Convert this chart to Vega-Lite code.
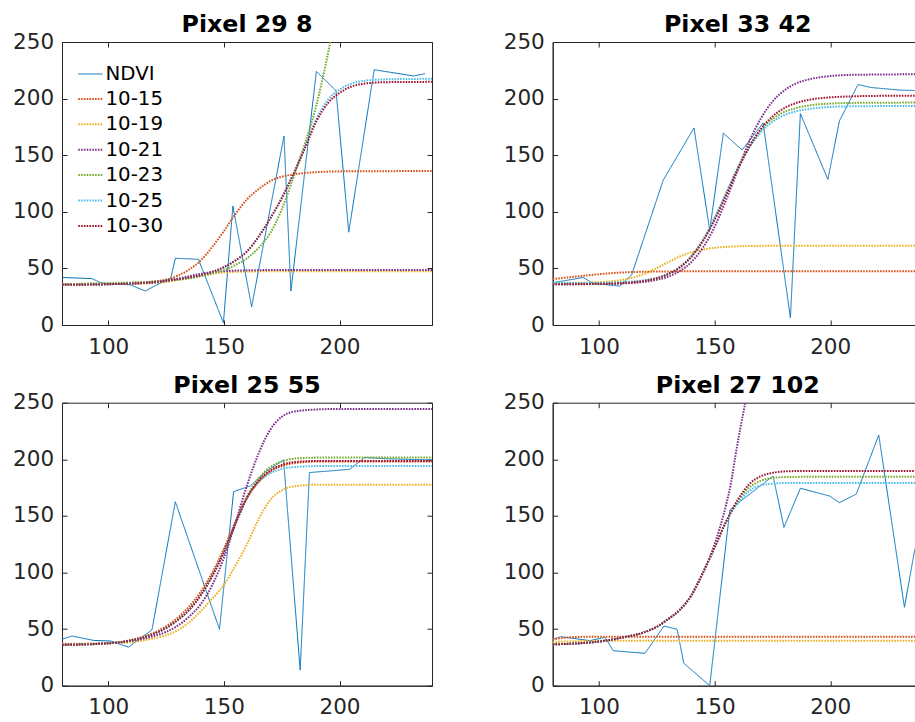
{
"$schema": "https://vega.github.io/schema/vega-lite/v6.json",
"padding": {"left": 12, "top": 12, "right": 0, "bottom": 0},
"background": "white",
"config": {
  "font": "DejaVu Sans",
  "view": {"stroke": "#262626", "strokeWidth": 1},
  "axis": {"grid": false, "title": null, "domainColor": "#262626", "tickColor": "#262626", "labelColor": "#262626", "labelFont": "DejaVu Sans", "labelFontSize": 21.5, "tickSize": -5, "domainWidth": 1, "tickWidth": 1},
  "axisX": {"labelPadding": 16},
  "axisY": {"labelPadding": 13.4},
  "title": {"font": "DejaVu Sans", "fontSize": 23.7, "fontWeight": "bold", "color": "#000000", "baseline": "alphabetic", "offset": -6, "anchor": "middle", "frame": "group"},
  "legend": {"title": null, "labelFont": "DejaVu Sans", "labelFontSize": 19.8, "labelColor": "#000000", "symbolType": "stroke", "symbolSize": 600, "labelOffset": 1.5, "rowPadding": 1.4, "padding": 0}
},
"data": {"values": [
{"p":1,"s":"NDVI","x":80,"y":42},{"p":1,"s":"NDVI","x":93,"y":41},{"p":1,"s":"NDVI","x":97,"y":37},{"p":1,"s":"NDVI","x":109.5,"y":35.5},{"p":1,"s":"NDVI","x":116,"y":30},{"p":1,"s":"NDVI","x":122.5,"y":37},{"p":1,"s":"NDVI","x":127,"y":41},{"p":1,"s":"NDVI","x":129,"y":59},{"p":1,"s":"NDVI","x":139,"y":58},{"p":1,"s":"NDVI","x":149.8,"y":2},{"p":1,"s":"NDVI","x":153.9,"y":105},{"p":1,"s":"NDVI","x":162,"y":16},{"p":1,"s":"NDVI","x":176,"y":167},{"p":1,"s":"NDVI","x":179,"y":30},{"p":1,"s":"NDVI","x":190,"y":224},{"p":1,"s":"NDVI","x":198.5,"y":207},{"p":1,"s":"NDVI","x":204,"y":82},{"p":1,"s":"NDVI","x":215,"y":225.5},{"p":1,"s":"NDVI","x":232,"y":220},{"p":1,"s":"NDVI","x":237,"y":222},
{"p":1,"s":"10-15","x":80,"y":36},{"p":1,"s":"10-15","x":100,"y":36.2},{"p":1,"s":"10-15","x":110,"y":37},{"p":1,"s":"10-15","x":120,"y":38.4},{"p":1,"s":"10-15","x":130,"y":43.5},{"p":1,"s":"10-15","x":135,"y":49},{"p":1,"s":"10-15","x":140,"y":57},{"p":1,"s":"10-15","x":145,"y":69},{"p":1,"s":"10-15","x":150,"y":83},{"p":1,"s":"10-15","x":155,"y":98},{"p":1,"s":"10-15","x":160,"y":111},{"p":1,"s":"10-15","x":165,"y":120},{"p":1,"s":"10-15","x":170,"y":127},{"p":1,"s":"10-15","x":175,"y":131},{"p":1,"s":"10-15","x":180,"y":133},{"p":1,"s":"10-15","x":185,"y":134.3},{"p":1,"s":"10-15","x":190,"y":135},{"p":1,"s":"10-15","x":200,"y":135.7},{"p":1,"s":"10-15","x":240,"y":136},
{"p":1,"s":"10-19","x":80,"y":36},{"p":1,"s":"10-19","x":100,"y":36.1},{"p":1,"s":"10-19","x":115,"y":36.6},{"p":1,"s":"10-19","x":120,"y":37.1},{"p":1,"s":"10-19","x":125,"y":38},{"p":1,"s":"10-19","x":130,"y":39.7},{"p":1,"s":"10-19","x":135,"y":41.7},{"p":1,"s":"10-19","x":140,"y":43.8},{"p":1,"s":"10-19","x":145,"y":45.4},{"p":1,"s":"10-19","x":150,"y":46.4},{"p":1,"s":"10-19","x":155,"y":47},{"p":1,"s":"10-19","x":160,"y":47.2},{"p":1,"s":"10-19","x":170,"y":47.45},{"p":1,"s":"10-19","x":240,"y":47.5},
{"p":1,"s":"10-21","x":80,"y":36},{"p":1,"s":"10-21","x":100,"y":36.1},{"p":1,"s":"10-21","x":115,"y":37},{"p":1,"s":"10-21","x":120,"y":37.6},{"p":1,"s":"10-21","x":125,"y":39},{"p":1,"s":"10-21","x":130,"y":40.9},{"p":1,"s":"10-21","x":135,"y":43.2},{"p":1,"s":"10-21","x":140,"y":45.3},{"p":1,"s":"10-21","x":145,"y":46.7},{"p":1,"s":"10-21","x":150,"y":47.6},{"p":1,"s":"10-21","x":155,"y":48.05},{"p":1,"s":"10-21","x":160,"y":48.3},{"p":1,"s":"10-21","x":170,"y":48.5},{"p":1,"s":"10-21","x":240,"y":48.5},
{"p":1,"s":"10-23","x":80,"y":36},{"p":1,"s":"10-23","x":100,"y":37},{"p":1,"s":"10-23","x":120,"y":38.5},{"p":1,"s":"10-23","x":130,"y":40},{"p":1,"s":"10-23","x":140,"y":43},{"p":1,"s":"10-23","x":145,"y":45.5},{"p":1,"s":"10-23","x":150,"y":48.5},{"p":1,"s":"10-23","x":155,"y":53},{"p":1,"s":"10-23","x":160,"y":59},{"p":1,"s":"10-23","x":165,"y":68},{"p":1,"s":"10-23","x":170,"y":81},{"p":1,"s":"10-23","x":175,"y":102},{"p":1,"s":"10-23","x":180,"y":130},{"p":1,"s":"10-23","x":185,"y":160},{"p":1,"s":"10-23","x":190,"y":194},{"p":1,"s":"10-23","x":194,"y":230},{"p":1,"s":"10-23","x":196,"y":250},
{"p":1,"s":"10-25","x":80,"y":35.5},{"p":1,"s":"10-25","x":100,"y":36},{"p":1,"s":"10-25","x":120,"y":38},{"p":1,"s":"10-25","x":130,"y":40.5},{"p":1,"s":"10-25","x":140,"y":44},{"p":1,"s":"10-25","x":145,"y":47},{"p":1,"s":"10-25","x":150,"y":51},{"p":1,"s":"10-25","x":155,"y":57},{"p":1,"s":"10-25","x":160,"y":65},{"p":1,"s":"10-25","x":165,"y":78},{"p":1,"s":"10-25","x":170,"y":94},{"p":1,"s":"10-25","x":175,"y":112},{"p":1,"s":"10-25","x":180,"y":133},{"p":1,"s":"10-25","x":185,"y":157},{"p":1,"s":"10-25","x":190,"y":182},{"p":1,"s":"10-25","x":195,"y":199},{"p":1,"s":"10-25","x":200,"y":208},{"p":1,"s":"10-25","x":205,"y":213},{"p":1,"s":"10-25","x":210,"y":215.5},{"p":1,"s":"10-25","x":220,"y":217},{"p":1,"s":"10-25","x":240,"y":217.5},
{"p":1,"s":"10-30","x":80,"y":35.5},{"p":1,"s":"10-30","x":100,"y":36},{"p":1,"s":"10-30","x":120,"y":38},{"p":1,"s":"10-30","x":130,"y":40.5},{"p":1,"s":"10-30","x":140,"y":44},{"p":1,"s":"10-30","x":145,"y":47},{"p":1,"s":"10-30","x":150,"y":51},{"p":1,"s":"10-30","x":155,"y":57},{"p":1,"s":"10-30","x":160,"y":65},{"p":1,"s":"10-30","x":165,"y":78},{"p":1,"s":"10-30","x":170,"y":94},{"p":1,"s":"10-30","x":175,"y":112},{"p":1,"s":"10-30","x":180,"y":133},{"p":1,"s":"10-30","x":185,"y":156},{"p":1,"s":"10-30","x":190,"y":180},{"p":1,"s":"10-30","x":195,"y":196},{"p":1,"s":"10-30","x":200,"y":205},{"p":1,"s":"10-30","x":205,"y":210.5},{"p":1,"s":"10-30","x":210,"y":213},{"p":1,"s":"10-30","x":220,"y":214.5},{"p":1,"s":"10-30","x":240,"y":214.8},

{"p":2,"s":"NDVI","x":80,"y":37.3},{"p":2,"s":"NDVI","x":93.2,"y":42},{"p":2,"s":"NDVI","x":97.5,"y":36.8},{"p":2,"s":"NDVI","x":109,"y":34.4},{"p":2,"s":"NDVI","x":114.1,"y":44.1},{"p":2,"s":"NDVI","x":127.8,"y":128},{"p":2,"s":"NDVI","x":141.1,"y":174.1},{"p":2,"s":"NDVI","x":147.9,"y":83.8},{"p":2,"s":"NDVI","x":153.8,"y":169.5},{"p":2,"s":"NDVI","x":161.9,"y":154.6},{"p":2,"s":"NDVI","x":171,"y":178.5},{"p":2,"s":"NDVI","x":182.8,"y":6.3},{"p":2,"s":"NDVI","x":187.1,"y":186.8},{"p":2,"s":"NDVI","x":199,"y":128.6},{"p":2,"s":"NDVI","x":204,"y":180.3},{"p":2,"s":"NDVI","x":212,"y":212.4},{"p":2,"s":"NDVI","x":217.7,"y":209.8},{"p":2,"s":"NDVI","x":230,"y":207.5},{"p":2,"s":"NDVI","x":240,"y":207},
{"p":2,"s":"10-15","x":80,"y":40.6},{"p":2,"s":"10-15","x":90,"y":42.75},{"p":2,"s":"10-15","x":100,"y":44.9},{"p":2,"s":"10-15","x":110,"y":46.4},{"p":2,"s":"10-15","x":120,"y":47.05},{"p":2,"s":"10-15","x":130,"y":47.3},{"p":2,"s":"10-15","x":150,"y":47.5},{"p":2,"s":"10-15","x":240,"y":47.5},
{"p":2,"s":"10-19","x":80,"y":37.1},{"p":2,"s":"10-19","x":100,"y":37.9},{"p":2,"s":"10-19","x":110,"y":39.9},{"p":2,"s":"10-19","x":115,"y":42.1},{"p":2,"s":"10-19","x":120,"y":45.6},{"p":2,"s":"10-19","x":125,"y":50.3},{"p":2,"s":"10-19","x":130,"y":55.6},{"p":2,"s":"10-19","x":135,"y":60.5},{"p":2,"s":"10-19","x":140,"y":64.3},{"p":2,"s":"10-19","x":145,"y":66.7},{"p":2,"s":"10-19","x":150,"y":68.2},{"p":2,"s":"10-19","x":155,"y":69},{"p":2,"s":"10-19","x":160,"y":69.5},{"p":2,"s":"10-19","x":170,"y":69.9},{"p":2,"s":"10-19","x":240,"y":70},
{"p":2,"s":"10-21","x":80,"y":36},{"p":2,"s":"10-21","x":100,"y":36.2},{"p":2,"s":"10-21","x":110,"y":36.7},{"p":2,"s":"10-21","x":120,"y":38.2},{"p":2,"s":"10-21","x":125,"y":39.9},{"p":2,"s":"10-21","x":130,"y":42.7},{"p":2,"s":"10-21","x":135,"y":47.7},{"p":2,"s":"10-21","x":140,"y":55.7},{"p":2,"s":"10-21","x":145,"y":68.4},{"p":2,"s":"10-21","x":150,"y":86.7},{"p":2,"s":"10-21","x":155,"y":110.5},{"p":2,"s":"10-21","x":160,"y":136.8},{"p":2,"s":"10-21","x":165,"y":162.2},{"p":2,"s":"10-21","x":170,"y":182.4},{"p":2,"s":"10-21","x":175,"y":197.3},{"p":2,"s":"10-21","x":180,"y":207},{"p":2,"s":"10-21","x":185,"y":213.2},{"p":2,"s":"10-21","x":190,"y":216.6},{"p":2,"s":"10-21","x":200,"y":219.9},{"p":2,"s":"10-21","x":210,"y":221},{"p":2,"s":"10-21","x":240,"y":221.5},
{"p":2,"s":"10-23","x":80,"y":36.5},{"p":2,"s":"10-23","x":100,"y":36.8},{"p":2,"s":"10-23","x":110,"y":37.4},{"p":2,"s":"10-23","x":120,"y":39.2},{"p":2,"s":"10-23","x":125,"y":41.2},{"p":2,"s":"10-23","x":130,"y":44.8},{"p":2,"s":"10-23","x":135,"y":50.8},{"p":2,"s":"10-23","x":140,"y":60.3},{"p":2,"s":"10-23","x":145,"y":74.6},{"p":2,"s":"10-23","x":150,"y":93.8},{"p":2,"s":"10-23","x":155,"y":116.3},{"p":2,"s":"10-23","x":160,"y":138.7},{"p":2,"s":"10-23","x":165,"y":157.9},{"p":2,"s":"10-23","x":170,"y":172.3},{"p":2,"s":"10-23","x":175,"y":181.9},{"p":2,"s":"10-23","x":180,"y":188},{"p":2,"s":"10-23","x":185,"y":191.5},{"p":2,"s":"10-23","x":190,"y":193.7},{"p":2,"s":"10-23","x":200,"y":195.6},{"p":2,"s":"10-23","x":210,"y":196.2},{"p":2,"s":"10-23","x":240,"y":196.5},
{"p":2,"s":"10-25","x":80,"y":37},{"p":2,"s":"10-25","x":100,"y":37.2},{"p":2,"s":"10-25","x":110,"y":37.8},{"p":2,"s":"10-25","x":120,"y":39.6},{"p":2,"s":"10-25","x":125,"y":41.6},{"p":2,"s":"10-25","x":130,"y":45.3},{"p":2,"s":"10-25","x":135,"y":51.5},{"p":2,"s":"10-25","x":140,"y":61},{"p":2,"s":"10-25","x":145,"y":75.5},{"p":2,"s":"10-25","x":150,"y":94.5},{"p":2,"s":"10-25","x":155,"y":116.5},{"p":2,"s":"10-25","x":160,"y":138.2},{"p":2,"s":"10-25","x":165,"y":156.6},{"p":2,"s":"10-25","x":170,"y":170.2},{"p":2,"s":"10-25","x":175,"y":179.5},{"p":2,"s":"10-25","x":180,"y":185.2},{"p":2,"s":"10-25","x":185,"y":188.6},{"p":2,"s":"10-25","x":190,"y":190.6},{"p":2,"s":"10-25","x":200,"y":192.6},{"p":2,"s":"10-25","x":210,"y":193.2},{"p":2,"s":"10-25","x":240,"y":193.5},
{"p":2,"s":"10-30","x":80,"y":36},{"p":2,"s":"10-30","x":100,"y":36.4},{"p":2,"s":"10-30","x":110,"y":37},{"p":2,"s":"10-30","x":120,"y":39.1},{"p":2,"s":"10-30","x":125,"y":41.3},{"p":2,"s":"10-30","x":130,"y":45},{"p":2,"s":"10-30","x":135,"y":51},{"p":2,"s":"10-30","x":140,"y":60.4},{"p":2,"s":"10-30","x":145,"y":74.3},{"p":2,"s":"10-30","x":150,"y":92.8},{"p":2,"s":"10-30","x":155,"y":114.7},{"p":2,"s":"10-30","x":160,"y":137.3},{"p":2,"s":"10-30","x":165,"y":157.4},{"p":2,"s":"10-30","x":170,"y":173.1},{"p":2,"s":"10-30","x":175,"y":184.1},{"p":2,"s":"10-30","x":180,"y":191.4},{"p":2,"s":"10-30","x":185,"y":195.9},{"p":2,"s":"10-30","x":190,"y":198.6},{"p":2,"s":"10-30","x":195,"y":200.2},{"p":2,"s":"10-30","x":200,"y":201.1},{"p":2,"s":"10-30","x":210,"y":202},{"p":2,"s":"10-30","x":220,"y":202.4},{"p":2,"s":"10-30","x":240,"y":202.5},

{"p":3,"s":"NDVI","x":80,"y":41},{"p":3,"s":"NDVI","x":84.3,"y":43.9},{"p":3,"s":"NDVI","x":93.7,"y":40},{"p":3,"s":"NDVI","x":101,"y":39.5},{"p":3,"s":"NDVI","x":108.8,"y":34},{"p":3,"s":"NDVI","x":112.4,"y":39.7},{"p":3,"s":"NDVI","x":118.9,"y":49.2},{"p":3,"s":"NDVI","x":129,"y":162.5},{"p":3,"s":"NDVI","x":148.1,"y":49.8},{"p":3,"s":"NDVI","x":154.2,"y":171.4},{"p":3,"s":"NDVI","x":161.4,"y":176.4},{"p":3,"s":"NDVI","x":168,"y":189},{"p":3,"s":"NDVI","x":175.8,"y":199.4},{"p":3,"s":"NDVI","x":183,"y":13.8},{"p":3,"s":"NDVI","x":187,"y":188.3},{"p":3,"s":"NDVI","x":204.3,"y":191.1},{"p":3,"s":"NDVI","x":211,"y":201.7},{"p":3,"s":"NDVI","x":220,"y":200.5},{"p":3,"s":"NDVI","x":240,"y":199.4},
{"p":3,"s":"10-15","x":80,"y":36},{"p":3,"s":"10-15","x":100,"y":37.5},{"p":3,"s":"10-15","x":110,"y":40.5},{"p":3,"s":"10-15","x":120,"y":47},{"p":3,"s":"10-15","x":125,"y":52.5},{"p":3,"s":"10-15","x":130,"y":60},{"p":3,"s":"10-15","x":135,"y":70},{"p":3,"s":"10-15","x":140,"y":83},{"p":3,"s":"10-15","x":145,"y":100},{"p":3,"s":"10-15","x":150,"y":121},{"p":3,"s":"10-15","x":155,"y":145},{"p":3,"s":"10-15","x":160,"y":166},{"p":3,"s":"10-15","x":165,"y":180},{"p":3,"s":"10-15","x":170,"y":189},{"p":3,"s":"10-15","x":175,"y":194},{"p":3,"s":"10-15","x":180,"y":196.5},{"p":3,"s":"10-15","x":190,"y":198},{"p":3,"s":"10-15","x":240,"y":198},
{"p":3,"s":"10-19","x":80,"y":37},{"p":3,"s":"10-19","x":100,"y":37.5},{"p":3,"s":"10-19","x":110,"y":38.5},{"p":3,"s":"10-19","x":120,"y":42},{"p":3,"s":"10-19","x":125,"y":44.5},{"p":3,"s":"10-19","x":130,"y":49},{"p":3,"s":"10-19","x":135,"y":56},{"p":3,"s":"10-19","x":140,"y":66},{"p":3,"s":"10-19","x":145,"y":77},{"p":3,"s":"10-19","x":150,"y":89},{"p":3,"s":"10-19","x":155,"y":106},{"p":3,"s":"10-19","x":160,"y":125},{"p":3,"s":"10-19","x":165,"y":147},{"p":3,"s":"10-19","x":170,"y":164},{"p":3,"s":"10-19","x":175,"y":172.5},{"p":3,"s":"10-19","x":180,"y":176},{"p":3,"s":"10-19","x":190,"y":177.5},{"p":3,"s":"10-19","x":240,"y":177.5},
{"p":3,"s":"10-21","x":80,"y":36.5},{"p":3,"s":"10-21","x":100,"y":37.5},{"p":3,"s":"10-21","x":110,"y":39.5},{"p":3,"s":"10-21","x":120,"y":44},{"p":3,"s":"10-21","x":125,"y":47.5},{"p":3,"s":"10-21","x":130,"y":53},{"p":3,"s":"10-21","x":135,"y":61},{"p":3,"s":"10-21","x":140,"y":72},{"p":3,"s":"10-21","x":145,"y":89},{"p":3,"s":"10-21","x":150,"y":113},{"p":3,"s":"10-21","x":155,"y":144},{"p":3,"s":"10-21","x":160,"y":177},{"p":3,"s":"10-21","x":165,"y":205},{"p":3,"s":"10-21","x":170,"y":226},{"p":3,"s":"10-21","x":175,"y":237.5},{"p":3,"s":"10-21","x":180,"y":242},{"p":3,"s":"10-21","x":190,"y":244},{"p":3,"s":"10-21","x":200,"y":244.5},{"p":3,"s":"10-21","x":240,"y":244.5},
{"p":3,"s":"10-23","x":80,"y":36},{"p":3,"s":"10-23","x":100,"y":37.5},{"p":3,"s":"10-23","x":110,"y":40},{"p":3,"s":"10-23","x":120,"y":46},{"p":3,"s":"10-23","x":125,"y":51},{"p":3,"s":"10-23","x":130,"y":58},{"p":3,"s":"10-23","x":135,"y":67},{"p":3,"s":"10-23","x":140,"y":80},{"p":3,"s":"10-23","x":145,"y":97},{"p":3,"s":"10-23","x":150,"y":118},{"p":3,"s":"10-23","x":155,"y":143},{"p":3,"s":"10-23","x":160,"y":167},{"p":3,"s":"10-23","x":165,"y":183},{"p":3,"s":"10-23","x":170,"y":193},{"p":3,"s":"10-23","x":175,"y":198},{"p":3,"s":"10-23","x":180,"y":200.5},{"p":3,"s":"10-23","x":190,"y":201.5},{"p":3,"s":"10-23","x":240,"y":201.5},
{"p":3,"s":"10-25","x":80,"y":36},{"p":3,"s":"10-25","x":100,"y":37.5},{"p":3,"s":"10-25","x":110,"y":40},{"p":3,"s":"10-25","x":120,"y":46},{"p":3,"s":"10-25","x":125,"y":51},{"p":3,"s":"10-25","x":130,"y":58},{"p":3,"s":"10-25","x":135,"y":67},{"p":3,"s":"10-25","x":140,"y":80},{"p":3,"s":"10-25","x":145,"y":97},{"p":3,"s":"10-25","x":150,"y":118},{"p":3,"s":"10-25","x":155,"y":143},{"p":3,"s":"10-25","x":160,"y":166},{"p":3,"s":"10-25","x":165,"y":180},{"p":3,"s":"10-25","x":170,"y":187.5},{"p":3,"s":"10-25","x":175,"y":191.5},{"p":3,"s":"10-25","x":180,"y":193},{"p":3,"s":"10-25","x":190,"y":194},{"p":3,"s":"10-25","x":240,"y":194},
{"p":3,"s":"10-30","x":80,"y":36},{"p":3,"s":"10-30","x":100,"y":37.5},{"p":3,"s":"10-30","x":110,"y":40},{"p":3,"s":"10-30","x":120,"y":46},{"p":3,"s":"10-30","x":125,"y":51},{"p":3,"s":"10-30","x":130,"y":58},{"p":3,"s":"10-30","x":135,"y":67},{"p":3,"s":"10-30","x":140,"y":80},{"p":3,"s":"10-30","x":145,"y":97},{"p":3,"s":"10-30","x":150,"y":118},{"p":3,"s":"10-30","x":155,"y":143},{"p":3,"s":"10-30","x":160,"y":166},{"p":3,"s":"10-30","x":165,"y":181},{"p":3,"s":"10-30","x":170,"y":190},{"p":3,"s":"10-30","x":175,"y":195},{"p":3,"s":"10-30","x":180,"y":197.5},{"p":3,"s":"10-30","x":190,"y":198.5},{"p":3,"s":"10-30","x":240,"y":198.5},

{"p":4,"s":"NDVI","x":80,"y":41},{"p":4,"s":"NDVI","x":83.5,"y":43.3},{"p":4,"s":"NDVI","x":96.1,"y":39.8},{"p":4,"s":"NDVI","x":102.6,"y":42.7},{"p":4,"s":"NDVI","x":106.2,"y":30.9},{"p":4,"s":"NDVI","x":119.9,"y":28.6},{"p":4,"s":"NDVI","x":128.1,"y":52.7},{"p":4,"s":"NDVI","x":133.8,"y":49.8},{"p":4,"s":"NDVI","x":136.7,"y":19.8},{"p":4,"s":"NDVI","x":147.9,"y":0},{"p":4,"s":"NDVI","x":156.6,"y":155.2},{"p":4,"s":"NDVI","x":160.9,"y":162.5},{"p":4,"s":"NDVI","x":175.3,"y":185.2},{"p":4,"s":"NDVI","x":180,"y":139.9},{"p":4,"s":"NDVI","x":187.1,"y":174.4},{"p":4,"s":"NDVI","x":199.7,"y":167.6},{"p":4,"s":"NDVI","x":204,"y":161.7},{"p":4,"s":"NDVI","x":211.3,"y":169.3},{"p":4,"s":"NDVI","x":221,"y":221.5},{"p":4,"s":"NDVI","x":232.1,"y":69.3},{"p":4,"s":"NDVI","x":236.4,"y":118.4},{"p":4,"s":"NDVI","x":240,"y":145},
{"p":4,"s":"10-15","x":80,"y":41},{"p":4,"s":"10-15","x":85,"y":42.3},{"p":4,"s":"10-15","x":90,"y":43},{"p":4,"s":"10-15","x":100,"y":43.3},{"p":4,"s":"10-15","x":240,"y":43.3},
{"p":4,"s":"10-19","x":80,"y":38.5},{"p":4,"s":"10-19","x":90,"y":39.3},{"p":4,"s":"10-19","x":100,"y":39.6},{"p":4,"s":"10-19","x":240,"y":39.8},
{"p":4,"s":"10-21","x":80,"y":36.5},{"p":4,"s":"10-21","x":100,"y":39},{"p":4,"s":"10-21","x":110,"y":42.5},{"p":4,"s":"10-21","x":120,"y":47.5},{"p":4,"s":"10-21","x":125,"y":52},{"p":4,"s":"10-21","x":130,"y":59},{"p":4,"s":"10-21","x":135,"y":67},{"p":4,"s":"10-21","x":140,"y":80},{"p":4,"s":"10-21","x":145,"y":100},{"p":4,"s":"10-21","x":150,"y":125},{"p":4,"s":"10-21","x":155,"y":160},{"p":4,"s":"10-21","x":157,"y":178},{"p":4,"s":"10-21","x":159,"y":203},{"p":4,"s":"10-21","x":161,"y":226},{"p":4,"s":"10-21","x":162.5,"y":242},{"p":4,"s":"10-21","x":163.3,"y":250},
{"p":4,"s":"10-23","x":80,"y":36.5},{"p":4,"s":"10-23","x":100,"y":39},{"p":4,"s":"10-23","x":110,"y":42.5},{"p":4,"s":"10-23","x":120,"y":47.5},{"p":4,"s":"10-23","x":125,"y":52},{"p":4,"s":"10-23","x":130,"y":59},{"p":4,"s":"10-23","x":135,"y":67},{"p":4,"s":"10-23","x":140,"y":80},{"p":4,"s":"10-23","x":145,"y":100},{"p":4,"s":"10-23","x":150,"y":122},{"p":4,"s":"10-23","x":155,"y":145},{"p":4,"s":"10-23","x":160,"y":163},{"p":4,"s":"10-23","x":165,"y":175},{"p":4,"s":"10-23","x":170,"y":181},{"p":4,"s":"10-23","x":175,"y":183.5},{"p":4,"s":"10-23","x":180,"y":184.3},{"p":4,"s":"10-23","x":190,"y":184.5},{"p":4,"s":"10-23","x":240,"y":184.5},
{"p":4,"s":"10-25","x":80,"y":36.5},{"p":4,"s":"10-25","x":100,"y":39},{"p":4,"s":"10-25","x":110,"y":42.5},{"p":4,"s":"10-25","x":120,"y":47.5},{"p":4,"s":"10-25","x":125,"y":52},{"p":4,"s":"10-25","x":130,"y":59},{"p":4,"s":"10-25","x":135,"y":67},{"p":4,"s":"10-25","x":140,"y":80},{"p":4,"s":"10-25","x":145,"y":100},{"p":4,"s":"10-25","x":150,"y":122},{"p":4,"s":"10-25","x":155,"y":145},{"p":4,"s":"10-25","x":160,"y":161},{"p":4,"s":"10-25","x":165,"y":172},{"p":4,"s":"10-25","x":170,"y":177},{"p":4,"s":"10-25","x":175,"y":178.5},{"p":4,"s":"10-25","x":180,"y":179},{"p":4,"s":"10-25","x":240,"y":179},
{"p":4,"s":"10-30","x":80,"y":36.5},{"p":4,"s":"10-30","x":100,"y":39},{"p":4,"s":"10-30","x":110,"y":42.5},{"p":4,"s":"10-30","x":120,"y":47.5},{"p":4,"s":"10-30","x":125,"y":52},{"p":4,"s":"10-30","x":130,"y":59},{"p":4,"s":"10-30","x":135,"y":67},{"p":4,"s":"10-30","x":140,"y":80},{"p":4,"s":"10-30","x":145,"y":100},{"p":4,"s":"10-30","x":150,"y":122},{"p":4,"s":"10-30","x":155,"y":145},{"p":4,"s":"10-30","x":160,"y":164},{"p":4,"s":"10-30","x":165,"y":178},{"p":4,"s":"10-30","x":170,"y":185},{"p":4,"s":"10-30","x":175,"y":188},{"p":4,"s":"10-30","x":180,"y":189.3},{"p":4,"s":"10-30","x":190,"y":189.7},{"p":4,"s":"10-30","x":240,"y":189.7}
]},
"columns": 2,
"spacing": {"row": 77.7, "column": 120.7},
"bounds": "flush",
"concat": [
{"title": "Pixel 29 8", "width": 370, "height": 283, "transform": [{"filter": "datum.p === 1"}],
 "resolve": {"axis": {"x": "independent", "y": "independent"}},
 "layer": [
  {"transform": [{"filter": "datum.s === 'NDVI'"}], "mark": {"type": "line", "clip": true},
   "encoding": {
    "x": {"field": "x", "type": "quantitative", "scale": {"domain": [80, 240], "nice": false, "zero": false}, "axis": {"values": [100, 150, 200]}},
    "y": {"field": "y", "type": "quantitative", "scale": {"domain": [0, 250], "nice": false}, "axis": {"values": [0, 50, 100, 150, 200, 250]}},
    "color": {"field": "s", "type": "nominal", "scale": {"domain": ["NDVI","10-15","10-19","10-21","10-23","10-25","10-30"], "range": ["#0072BD","#D95319","#EDB120","#7E2F8E","#77AC30","#4DBEEE","#A2142F"]}, "legend": {"orient": "none", "legendX": 15, "legendY": 19}},
    "strokeDash": {"field": "s", "type": "nominal", "scale": {"domain": ["NDVI","10-15","10-19","10-21","10-23","10-25","10-30"], "range": [[1,0],[1.6,1.2],[1.6,1.2],[1.6,1.2],[1.6,1.2],[1.6,1.2],[1.6,1.2]]}, "legend": {"orient": "none", "legendX": 15, "legendY": 19}},
    "strokeWidth": {"field": "s", "type": "nominal", "scale": {"type": "ordinal", "domain": ["NDVI","10-15","10-19","10-21","10-23","10-25","10-30"], "range": [1, 2, 2, 2, 2, 2, 2]}, "legend": {"orient": "none", "legendX": 15, "legendY": 19}}}},
  {"transform": [{"filter": "datum.s !== 'NDVI'"}], "mark": {"type": "line", "clip": true, "interpolate": "monotone"},
   "encoding": {
    "x": {"field": "x", "type": "quantitative", "scale": {"domain": [80, 240], "nice": false, "zero": false}, "axis": null},
    "y": {"field": "y", "type": "quantitative", "scale": {"domain": [0, 250], "nice": false}, "axis": null},
    "color": {"field": "s", "type": "nominal", "scale": {"domain": ["NDVI","10-15","10-19","10-21","10-23","10-25","10-30"], "range": ["#0072BD","#D95319","#EDB120","#7E2F8E","#77AC30","#4DBEEE","#A2142F"]}, "legend": {"orient": "none", "legendX": 15, "legendY": 19}},
    "strokeDash": {"field": "s", "type": "nominal", "scale": {"domain": ["NDVI","10-15","10-19","10-21","10-23","10-25","10-30"], "range": [[1,0],[1.6,1.2],[1.6,1.2],[1.6,1.2],[1.6,1.2],[1.6,1.2],[1.6,1.2]]}, "legend": {"orient": "none", "legendX": 15, "legendY": 19}},
    "strokeWidth": {"field": "s", "type": "nominal", "scale": {"type": "ordinal", "domain": ["NDVI","10-15","10-19","10-21","10-23","10-25","10-30"], "range": [1, 2, 2, 2, 2, 2, 2]}, "legend": {"orient": "none", "legendX": 15, "legendY": 19}}}},
  {"mark": {"type": "point", "opacity": 0},
   "encoding": {
    "x": {"field": "x", "type": "quantitative", "scale": {"domain": [80, 240], "nice": false, "zero": false}, "axis": {"orient": "top", "labels": false, "domain": false, "values": [100, 150, 200]}},
    "y": {"field": "y", "type": "quantitative", "scale": {"domain": [0, 250], "nice": false}, "axis": {"orient": "right", "labels": false, "domain": false, "values": [0, 50, 100, 150, 200, 250]}}}}
 ]},
{"title": "Pixel 33 42", "width": 370, "height": 283, "transform": [{"filter": "datum.p === 2"}],
 "resolve": {"axis": {"x": "independent", "y": "independent"}},
 "layer": [
  {"transform": [{"filter": "datum.s === 'NDVI'"}], "mark": {"type": "line", "clip": true},
   "encoding": {
    "x": {"field": "x", "type": "quantitative", "scale": {"domain": [80, 240], "nice": false, "zero": false}, "axis": {"values": [100, 150, 200]}},
    "y": {"field": "y", "type": "quantitative", "scale": {"domain": [0, 250], "nice": false}, "axis": {"values": [0, 50, 100, 150, 200, 250]}},
    "color": {"field": "s", "type": "nominal", "scale": {"domain": ["NDVI","10-15","10-19","10-21","10-23","10-25","10-30"], "range": ["#0072BD","#D95319","#EDB120","#7E2F8E","#77AC30","#4DBEEE","#A2142F"]}, "legend": {"orient": "none", "legendX": 15, "legendY": 19}},
    "strokeDash": {"field": "s", "type": "nominal", "scale": {"domain": ["NDVI","10-15","10-19","10-21","10-23","10-25","10-30"], "range": [[1,0],[1.6,1.2],[1.6,1.2],[1.6,1.2],[1.6,1.2],[1.6,1.2],[1.6,1.2]]}, "legend": {"orient": "none", "legendX": 15, "legendY": 19}},
    "strokeWidth": {"field": "s", "type": "nominal", "scale": {"type": "ordinal", "domain": ["NDVI","10-15","10-19","10-21","10-23","10-25","10-30"], "range": [1, 2, 2, 2, 2, 2, 2]}, "legend": {"orient": "none", "legendX": 15, "legendY": 19}}}},
  {"transform": [{"filter": "datum.s !== 'NDVI'"}], "mark": {"type": "line", "clip": true, "interpolate": "monotone"},
   "encoding": {
    "x": {"field": "x", "type": "quantitative", "scale": {"domain": [80, 240], "nice": false, "zero": false}, "axis": null},
    "y": {"field": "y", "type": "quantitative", "scale": {"domain": [0, 250], "nice": false}, "axis": null},
    "color": {"field": "s", "type": "nominal", "scale": {"domain": ["NDVI","10-15","10-19","10-21","10-23","10-25","10-30"], "range": ["#0072BD","#D95319","#EDB120","#7E2F8E","#77AC30","#4DBEEE","#A2142F"]}, "legend": {"orient": "none", "legendX": 15, "legendY": 19}},
    "strokeDash": {"field": "s", "type": "nominal", "scale": {"domain": ["NDVI","10-15","10-19","10-21","10-23","10-25","10-30"], "range": [[1,0],[1.6,1.2],[1.6,1.2],[1.6,1.2],[1.6,1.2],[1.6,1.2],[1.6,1.2]]}, "legend": {"orient": "none", "legendX": 15, "legendY": 19}},
    "strokeWidth": {"field": "s", "type": "nominal", "scale": {"type": "ordinal", "domain": ["NDVI","10-15","10-19","10-21","10-23","10-25","10-30"], "range": [1, 2, 2, 2, 2, 2, 2]}, "legend": {"orient": "none", "legendX": 15, "legendY": 19}}}},
  {"mark": {"type": "point", "opacity": 0},
   "encoding": {
    "x": {"field": "x", "type": "quantitative", "scale": {"domain": [80, 240], "nice": false, "zero": false}, "axis": {"orient": "top", "labels": false, "domain": false, "values": [100, 150, 200]}},
    "y": {"field": "y", "type": "quantitative", "scale": {"domain": [0, 250], "nice": false}, "axis": {"orient": "right", "labels": false, "domain": false, "values": [0, 50, 100, 150, 200, 250]}}}}
 ]},
{"title": "Pixel 25 55", "width": 370, "height": 283, "transform": [{"filter": "datum.p === 3"}],
 "resolve": {"axis": {"x": "independent", "y": "independent"}},
 "layer": [
  {"transform": [{"filter": "datum.s === 'NDVI'"}], "mark": {"type": "line", "clip": true},
   "encoding": {
    "x": {"field": "x", "type": "quantitative", "scale": {"domain": [80, 240], "nice": false, "zero": false}, "axis": {"values": [100, 150, 200]}},
    "y": {"field": "y", "type": "quantitative", "scale": {"domain": [0, 250], "nice": false}, "axis": {"values": [0, 50, 100, 150, 200, 250]}},
    "color": {"field": "s", "type": "nominal", "scale": {"domain": ["NDVI","10-15","10-19","10-21","10-23","10-25","10-30"], "range": ["#0072BD","#D95319","#EDB120","#7E2F8E","#77AC30","#4DBEEE","#A2142F"]}, "legend": {"orient": "none", "legendX": 15, "legendY": 19}},
    "strokeDash": {"field": "s", "type": "nominal", "scale": {"domain": ["NDVI","10-15","10-19","10-21","10-23","10-25","10-30"], "range": [[1,0],[1.6,1.2],[1.6,1.2],[1.6,1.2],[1.6,1.2],[1.6,1.2],[1.6,1.2]]}, "legend": {"orient": "none", "legendX": 15, "legendY": 19}},
    "strokeWidth": {"field": "s", "type": "nominal", "scale": {"type": "ordinal", "domain": ["NDVI","10-15","10-19","10-21","10-23","10-25","10-30"], "range": [1, 2, 2, 2, 2, 2, 2]}, "legend": {"orient": "none", "legendX": 15, "legendY": 19}}}},
  {"transform": [{"filter": "datum.s !== 'NDVI'"}], "mark": {"type": "line", "clip": true, "interpolate": "monotone"},
   "encoding": {
    "x": {"field": "x", "type": "quantitative", "scale": {"domain": [80, 240], "nice": false, "zero": false}, "axis": null},
    "y": {"field": "y", "type": "quantitative", "scale": {"domain": [0, 250], "nice": false}, "axis": null},
    "color": {"field": "s", "type": "nominal", "scale": {"domain": ["NDVI","10-15","10-19","10-21","10-23","10-25","10-30"], "range": ["#0072BD","#D95319","#EDB120","#7E2F8E","#77AC30","#4DBEEE","#A2142F"]}, "legend": {"orient": "none", "legendX": 15, "legendY": 19}},
    "strokeDash": {"field": "s", "type": "nominal", "scale": {"domain": ["NDVI","10-15","10-19","10-21","10-23","10-25","10-30"], "range": [[1,0],[1.6,1.2],[1.6,1.2],[1.6,1.2],[1.6,1.2],[1.6,1.2],[1.6,1.2]]}, "legend": {"orient": "none", "legendX": 15, "legendY": 19}},
    "strokeWidth": {"field": "s", "type": "nominal", "scale": {"type": "ordinal", "domain": ["NDVI","10-15","10-19","10-21","10-23","10-25","10-30"], "range": [1, 2, 2, 2, 2, 2, 2]}, "legend": {"orient": "none", "legendX": 15, "legendY": 19}}}},
  {"mark": {"type": "point", "opacity": 0},
   "encoding": {
    "x": {"field": "x", "type": "quantitative", "scale": {"domain": [80, 240], "nice": false, "zero": false}, "axis": {"orient": "top", "labels": false, "domain": false, "values": [100, 150, 200]}},
    "y": {"field": "y", "type": "quantitative", "scale": {"domain": [0, 250], "nice": false}, "axis": {"orient": "right", "labels": false, "domain": false, "values": [0, 50, 100, 150, 200, 250]}}}}
 ]},
{"title": "Pixel 27 102", "width": 370, "height": 283, "transform": [{"filter": "datum.p === 4"}],
 "resolve": {"axis": {"x": "independent", "y": "independent"}},
 "layer": [
  {"transform": [{"filter": "datum.s === 'NDVI'"}], "mark": {"type": "line", "clip": true},
   "encoding": {
    "x": {"field": "x", "type": "quantitative", "scale": {"domain": [80, 240], "nice": false, "zero": false}, "axis": {"values": [100, 150, 200]}},
    "y": {"field": "y", "type": "quantitative", "scale": {"domain": [0, 250], "nice": false}, "axis": {"values": [0, 50, 100, 150, 200, 250]}},
    "color": {"field": "s", "type": "nominal", "scale": {"domain": ["NDVI","10-15","10-19","10-21","10-23","10-25","10-30"], "range": ["#0072BD","#D95319","#EDB120","#7E2F8E","#77AC30","#4DBEEE","#A2142F"]}, "legend": {"orient": "none", "legendX": 15, "legendY": 19}},
    "strokeDash": {"field": "s", "type": "nominal", "scale": {"domain": ["NDVI","10-15","10-19","10-21","10-23","10-25","10-30"], "range": [[1,0],[1.6,1.2],[1.6,1.2],[1.6,1.2],[1.6,1.2],[1.6,1.2],[1.6,1.2]]}, "legend": {"orient": "none", "legendX": 15, "legendY": 19}},
    "strokeWidth": {"field": "s", "type": "nominal", "scale": {"type": "ordinal", "domain": ["NDVI","10-15","10-19","10-21","10-23","10-25","10-30"], "range": [1, 2, 2, 2, 2, 2, 2]}, "legend": {"orient": "none", "legendX": 15, "legendY": 19}}}},
  {"transform": [{"filter": "datum.s !== 'NDVI'"}], "mark": {"type": "line", "clip": true, "interpolate": "monotone"},
   "encoding": {
    "x": {"field": "x", "type": "quantitative", "scale": {"domain": [80, 240], "nice": false, "zero": false}, "axis": null},
    "y": {"field": "y", "type": "quantitative", "scale": {"domain": [0, 250], "nice": false}, "axis": null},
    "color": {"field": "s", "type": "nominal", "scale": {"domain": ["NDVI","10-15","10-19","10-21","10-23","10-25","10-30"], "range": ["#0072BD","#D95319","#EDB120","#7E2F8E","#77AC30","#4DBEEE","#A2142F"]}, "legend": {"orient": "none", "legendX": 15, "legendY": 19}},
    "strokeDash": {"field": "s", "type": "nominal", "scale": {"domain": ["NDVI","10-15","10-19","10-21","10-23","10-25","10-30"], "range": [[1,0],[1.6,1.2],[1.6,1.2],[1.6,1.2],[1.6,1.2],[1.6,1.2],[1.6,1.2]]}, "legend": {"orient": "none", "legendX": 15, "legendY": 19}},
    "strokeWidth": {"field": "s", "type": "nominal", "scale": {"type": "ordinal", "domain": ["NDVI","10-15","10-19","10-21","10-23","10-25","10-30"], "range": [1, 2, 2, 2, 2, 2, 2]}, "legend": {"orient": "none", "legendX": 15, "legendY": 19}}}},
  {"mark": {"type": "point", "opacity": 0},
   "encoding": {
    "x": {"field": "x", "type": "quantitative", "scale": {"domain": [80, 240], "nice": false, "zero": false}, "axis": {"orient": "top", "labels": false, "domain": false, "values": [100, 150, 200]}},
    "y": {"field": "y", "type": "quantitative", "scale": {"domain": [0, 250], "nice": false}, "axis": {"orient": "right", "labels": false, "domain": false, "values": [0, 50, 100, 150, 200, 250]}}}}
 ]}
]
}
